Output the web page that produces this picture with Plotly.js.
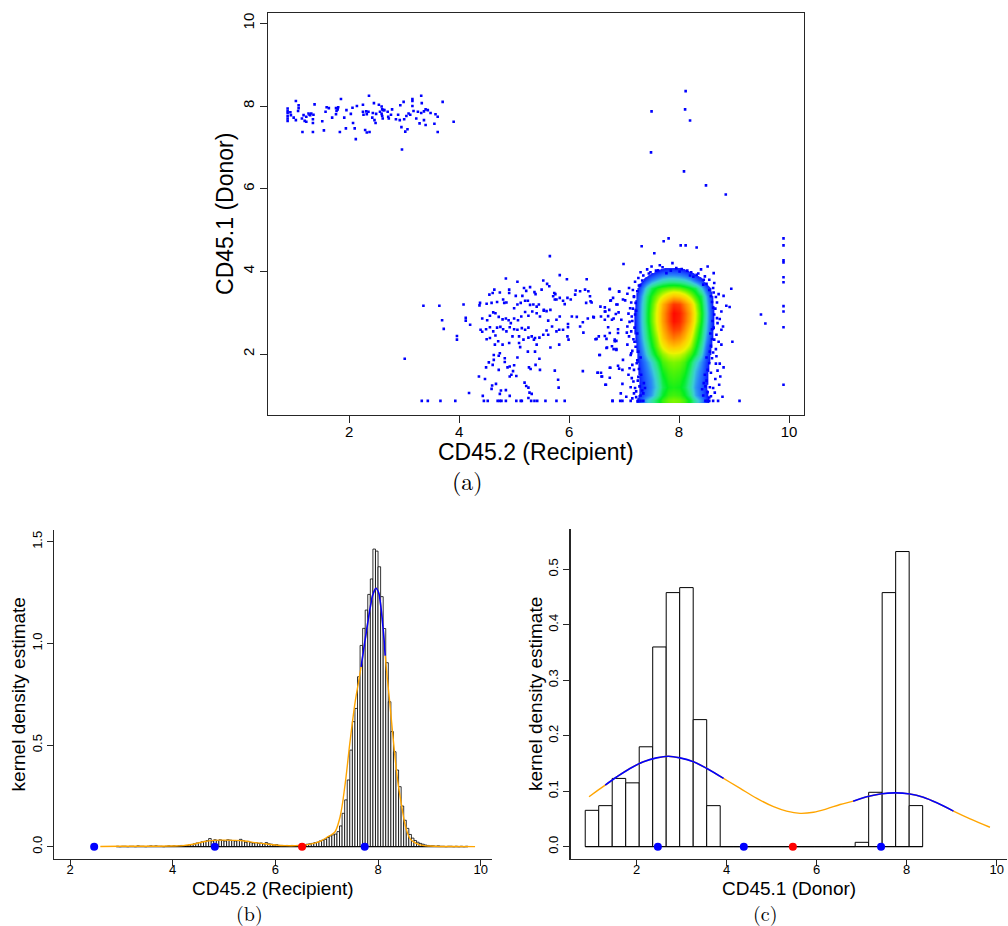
<!DOCTYPE html>
<html>
<head>
<meta charset="utf-8">
<script src="https://cdn.plot.ly/plotly-3.0.1.min.js"></script>
<style>
  html, body { margin: 0; padding: 0; background: #ffffff; }
  #chart { width: 1008px; height: 926px; }
</style>
</head>
<body>
<div id="chart"></div>
<script>
// ---------- (a) CD45.2 vs CD45.1 flow cytometry events ----------
// Donor-derived events (low CD45.2, high CD45.1)
const donorCellsX = [0.88,0.88,0.88,0.88,0.88,0.88,0.93,0.94,0.99,1.03,1.03,1.08,1.08,1.07,1.14,1.15,
  1.17,1.19,1.22,1.22,1.26,1.28,1.29,1.31,1.34,1.34,1.35,1.34,1.37,1.51,1.54,1.59,1.63,1.57,1.69,1.76,
  1.77,1.79,1.76,1.80,1.85,1.83,1.91,1.94,1.95,2.03,2.07,2.10,2.06,2.12,2.14,2.25,2.25,2.26,2.29,2.31,
  2.32,2.32,2.36,2.37,2.35,2.42,2.43,2.45,2.46,2.49,2.48,2.54,2.56,2.59,2.60,2.62,2.59,2.61,2.64,2.60,
  2.71,2.72,2.70,2.76,2.78,2.85,2.89,2.93,2.95,2.92,2.96,2.99,3.00,3.02,3.04,3.06,3.08,3.11,3.15,3.15,
  3.15,3.17,3.22,3.25,3.28,3.31,3.32,3.31,3.36,3.36,3.39,3.39,3.43,3.48,3.55,3.57,3.61,3.61,3.70,3.90];
const donorCellsY = [7.94,7.88,7.83,7.76,7.70,7.64,7.85,7.78,7.72,7.66,8.12,8.02,7.95,7.88,7.70,7.37,
  7.78,7.64,7.62,7.74,7.82,7.79,7.78,7.82,7.68,7.59,7.79,7.37,8.04,7.63,7.41,7.97,7.95,7.86,7.72,7.95,
  7.88,7.92,7.80,7.97,8.17,7.37,7.72,7.46,7.90,7.81,7.59,7.46,7.96,7.20,8.00,8.03,7.86,7.79,7.42,7.87,
  7.36,7.80,8.25,7.37,7.86,7.72,7.83,8.07,7.66,7.81,7.59,8.03,7.86,7.99,7.92,7.90,7.81,7.70,7.90,7.76,
  7.74,7.70,7.86,7.79,7.92,7.68,7.79,8.02,7.49,7.66,6.95,8.10,7.68,7.38,7.76,7.44,7.82,7.79,8.17,8.12,
  8.00,7.88,7.70,7.86,7.58,8.25,8.07,7.83,7.87,7.66,7.54,7.92,7.90,7.83,7.57,7.80,7.37,7.74,8.10,7.62];

// Intermediate population around CD45.2 ~ 5 (pairs of [CD45.2, CD45.1])
const midCells = [
  [5.65,4.37],[5.83,3.91],[5.96,3.81],[6.32,3.81],[6.74,3.57],[6.91,3.51],[4.85,3.83],[5.06,3.75],
  [5.18,3.60],[5.53,3.78],[5.60,3.70],[5.64,3.64],[5.29,3.62],[5.37,3.50],[5.73,3.48],[5.75,3.45],
  [5.50,3.56],[5.39,3.45],[5.22,3.53],[5.15,3.41],[5.03,3.41],[4.91,3.56],[4.74,3.49],[4.64,3.56],
  [4.61,3.48],[4.55,3.44],[4.59,3.24],[4.50,3.22],[4.38,3.24],[4.37,3.18],[4.69,3.26],[4.82,3.24],
  [4.80,3.32],[4.86,3.25],[4.91,3.48],[5.00,3.11],[5.06,3.20],[5.12,3.24],[5.20,3.29],[5.25,3.29],
  [5.29,3.19],[5.35,3.20],[5.41,3.15],[5.45,3.20],[5.54,3.07],[5.59,3.04],[5.66,3.07],[5.71,3.40],
  [5.74,3.32],[5.77,3.32],[5.83,3.36],[5.89,3.29],[5.92,3.21],[5.97,3.36],[6.03,3.32],[6.11,3.44],
  [6.12,3.54],[6.20,3.52],[6.29,3.56],[6.35,3.52],[6.39,3.28],[6.31,3.24],[6.57,3.15],[6.65,3.13],
  [6.66,3.03],[6.73,3.07],[6.76,3.30],[6.80,3.36],[6.88,3.20],[6.90,3.01],[6.85,2.97],[6.81,2.86],
  [6.78,2.83],[6.71,2.92],[6.65,2.83],[6.58,2.91],[6.44,2.90],[6.34,2.86],[6.25,2.77],[6.14,2.90],
  [6.05,2.91],[5.98,2.73],[5.98,2.65],[5.89,2.59],[5.83,2.91],[5.77,2.83],[5.69,2.67],[5.62,2.81],
  [5.54,3.05],[5.47,2.91],[5.41,2.99],[5.33,3.03],[5.26,2.93],[5.20,3.02],[5.13,2.91],[5.07,2.82],
  [5.00,2.86],[4.94,2.75],[4.90,2.82],[4.85,2.86],[4.79,2.84],[4.72,2.90],[4.66,2.99],[4.62,3.01],
  [4.56,2.93],[4.51,2.82],[4.42,2.86],[4.39,2.59],[4.42,2.54],[4.49,2.60],[4.56,2.65],[4.62,2.55],
  [4.69,2.64],[4.75,2.66],[4.80,2.60],[4.86,2.55],[4.92,2.65],[5.00,2.60],[5.06,2.59],[5.14,2.63],
  [5.20,2.59],[5.26,2.64],[5.32,2.43],[5.38,2.39],[5.46,2.40],[5.53,2.47],[5.62,2.47],[5.59,2.57],
  [5.77,2.55],[5.82,2.59],[5.97,2.43],[5.99,2.35],[6.26,2.52],[6.20,2.67],[6.48,2.36],[6.54,2.43],
  [6.65,2.44],[6.68,2.37],[6.74,2.51],[6.83,2.35],[6.86,2.32],[6.89,2.60],[6.78,2.19],[6.81,2.12],
  [6.86,2.10],[6.69,2.16],[6.56,1.98],[4.50,2.36],[4.56,2.39],[4.66,2.45],[4.71,2.31],[4.65,2.23],
  [4.79,2.23],[4.91,2.27],[4.97,2.43],[5.09,2.43],[5.09,2.27],[5.11,2.17],[5.17,2.35],[5.26,2.40],
  [5.36,2.35],[5.41,2.23],[5.25,2.06],[5.38,2.06],[5.46,1.89],[5.66,2.16],[5.82,2.23],[5.47,1.62],
  [5.39,1.74],[5.27,1.68],[5.30,1.64],[5.06,1.92],[5.00,1.73],[4.92,1.70],[4.88,1.68],[4.83,1.81],
  [4.83,1.90],[4.72,1.96],[4.74,2.02],[4.63,1.98],[4.63,1.86],[4.61,1.74],[4.54,1.80],[4.49,1.68],
  [4.72,1.62],[4.95,1.50],[4.92,1.46],[4.98,1.59],[5.04,1.47],[5.22,1.23],[5.19,1.31],[5.26,1.19],
  [5.28,1.07],[5.32,1.04],[5.26,0.94],[4.92,0.99],[4.85,1.13],[4.76,1.12],[4.74,1.04],[4.67,1.28],
  [4.60,1.24],[4.59,1.16],[4.47,1.40],[4.36,1.46],[4.43,0.99],[4.18,1.06],[5.74,1.60],[5.80,1.38],
  [5.81,1.19],[6.25,1.59],[6.52,1.55],[6.60,1.46],[6.58,1.55],[6.67,1.26],[6.75,1.67],[6.74,1.43],
  [6.91,1.65],[6.89,1.72],[3.35,3.17],[3.64,3.17],[3.69,2.82],[3.72,2.61],[4.12,2.88],[4.12,2.81],
  [4.08,3.20],[4.20,2.71],[3.96,2.44],[3.96,2.35],[3.01,1.89],
  [3.32,0.87],[3.43,0.87],[3.66,0.87],[3.93,0.87],[4.45,0.87],[4.52,0.87],[4.70,0.87],[4.74,0.87],
  [4.77,0.87],[4.85,0.87],[5.04,0.87],[5.12,0.87],[5.14,0.87],[5.31,0.87],[5.37,0.87],[5.42,0.87],
  [5.57,0.87],[5.77,0.87],[5.92,0.87],[6.79,0.87]
];

// Recipient population: sparse events around the dense core and outliers
const recipCells = [
  [8.12,8.36],[7.50,7.87],[8.11,7.92],[8.20,7.65],[7.49,6.88],[8.09,6.42],[8.49,6.08],[8.85,5.86],
  [7.81,4.80],[7.72,4.73],[7.32,4.61],[8.03,4.63],[8.12,4.63],[8.32,4.58],[7.55,4.44],[7.88,4.20],
  [6.99,4.18],[8.52,4.12],
  [9.90,4.80],[9.90,4.63],[9.90,4.27],[9.90,4.22],[9.90,3.86],[9.90,3.74],[9.90,3.16],[9.90,3.03],
  [9.90,2.65],[9.90,1.26],[9.49,2.96],[9.57,2.74],[9.10,0.87],
  [6.38,3.40],[6.41,3.25],[6.45,2.89],[6.50,2.37],[6.55,1.98],[6.52,1.55],[6.59,1.46],[6.66,1.26],
  [6.79,0.87],[6.74,3.58],[6.75,3.29],[6.65,3.03],[6.71,2.65],[6.68,2.15],[6.74,1.67],[6.91,3.52],
  [6.98,3.32],[6.86,3.20],[6.95,2.83],[6.89,2.51],[6.83,2.31],[6.86,2.12],[6.98,1.86],[6.97,1.62],
  [6.97,1.28],[6.94,1.05],[7.04,0.97],[7.12,0.87],[7.08,1.50],[7.17,1.34],[7.15,1.74],[7.12,1.98],
  [7.06,2.23],[7.09,2.43],[7.06,2.67],[7.14,2.91],[7.11,3.11],[7.18,3.40],[7.09,3.60],[7.29,3.67],
  [7.26,3.84],[7.30,3.98],[7.48,3.98],[7.62,4.03],[7.77,3.96],[8.01,4.00],[8.20,3.90],[8.26,3.87],
  [8.47,3.88],[8.63,3.96],[8.64,3.72],[8.44,3.68],[8.63,3.49],[8.81,3.41],[8.95,3.58],[8.92,3.14],
  [8.86,3.17],[8.69,3.25],[8.67,3.38],[8.77,3.03],[8.69,2.87],[8.80,2.67],[8.77,2.59],[8.68,2.47],
  [8.97,2.30],[8.77,2.23],[8.67,2.12],[8.62,2.04],[8.67,1.77],[8.74,1.77],[8.81,1.68],[8.75,1.46],
  [8.73,1.26],[8.65,1.07],[8.79,0.97],[8.71,0.87],[8.62,0.87],[6.97,0.87],[6.93,0.87],
  // speckled fringe around the dense core
  [7.22,1.10],[7.28,1.22],[7.25,1.36],[7.31,1.50],[7.27,1.64],[7.23,1.78],[7.30,1.92],[7.26,2.06],
  [7.21,2.18],[7.17,2.36],[7.24,2.50],[7.19,2.64],[7.15,2.80],[7.20,2.96],[7.16,3.10],[7.21,3.24],
  [7.18,3.38],[7.24,3.52],[7.27,3.66],[7.33,3.78],[7.35,1.05],[7.36,1.30],[7.33,1.12],[7.38,1.18],
  [7.30,1.00],[7.12,1.20],[7.14,1.42],[7.10,1.66],[7.13,2.02],[7.05,2.52],[7.08,2.98],[7.02,3.30],
  [7.06,3.46],[7.25,0.87],[7.35,0.87],[7.15,0.93],[7.20,3.75],[7.16,3.55],[7.13,3.25],[7.10,2.78],
  [7.13,2.55],[7.15,2.08],[7.18,1.62],[7.20,1.18],[7.22,0.96],[7.26,1.45],[7.24,1.85],[7.19,2.30],
  [7.22,3.05],[7.35,3.90],[7.42,4.05],[7.70,4.10],[7.95,4.08],[8.15,4.02],[8.35,3.95],[8.55,3.80],
  [8.52,1.08],[8.48,1.22],[8.50,1.36],[8.47,1.50],[8.52,1.62],[8.55,1.78],[8.50,1.92],[8.56,2.06],
  [8.58,2.20],[8.60,2.36],[8.57,2.50],[8.63,2.64],[8.61,2.80],[8.64,2.96],[8.62,3.12],[8.60,3.26],
  [8.58,3.40],[8.55,3.55],[8.50,3.70],[8.45,3.80],[8.44,1.00],[8.42,1.15],[8.45,1.30],[8.58,0.98],
  [8.62,1.18],[8.66,1.40],[8.70,1.60],[8.68,1.95],[8.72,2.30],[8.74,2.85],[8.72,3.45],[8.55,0.87],
  [8.48,0.87],[8.62,3.60],[8.66,3.10],[8.70,2.75],[8.64,2.35],[8.60,1.90],[8.58,1.55],[8.56,1.20],
  [8.55,0.95],[8.52,0.87],[7.30,0.87],[7.18,1.05],[8.60,2.60],
  [7.45,3.95],[7.58,4.02],[7.85,4.02],[8.05,4.06],[8.22,3.98],[8.32,3.92],[7.50,4.12],[8.40,4.05],
  [7.65,4.15]
];

// Local event density of the recipient core (relative level 0-10)
const coreGridX = [7.0,7.1,7.2,7.3,7.4,7.5,7.6,7.7,7.8,7.9,8.0,8.1,8.2,8.3,8.4,8.5,8.6,8.7,8.8];
const coreGridY = [0.88,1.0,1.2,1.4,1.6,1.8,2.0,2.2,2.4,2.6,2.8,3.0,3.2,3.4,3.6,3.8,4.0,4.2];
const coreDensity = [
  [0,0,0.7,1.8,3.0,3.7,4.5,5.2,5.6,5.7,5.6,5.3,4.6,3.6,2.6,1.3,0.3,0,0],
  [0,0,0.3,1.3,2.1,2.7,3.8,4.7,5.2,5.3,5.2,4.8,4.0,2.8,2.0,1.1,0.2,0,0],
  [0,0,0.2,1.1,1.9,2.5,3.4,4.4,4.9,5.0,4.9,4.5,3.6,2.6,1.9,1.0,0.2,0,0],
  [0,0,0.3,1.2,2.0,2.6,3.6,4.6,5.1,5.2,5.1,4.7,3.8,2.8,2.0,1.1,0.2,0,0],
  [0,0,0.4,1.3,2.2,2.9,3.9,4.9,5.3,5.4,5.3,5.0,4.1,3.0,2.2,1.2,0.3,0,0],
  [0,0,0.5,1.5,2.5,3.3,4.4,5.3,5.6,5.7,5.6,5.3,4.5,3.5,2.5,1.4,0.4,0,0],
  [0,0,0.6,1.9,3.2,4.2,5.2,5.8,6.2,6.3,6.2,5.9,5.3,4.5,3.3,1.7,0.5,0,0],
  [0,0,0.8,2.2,3.6,4.7,5.7,6.5,7.2,7.4,7.2,6.7,6.0,5.0,3.8,2.1,0.7,0,0],
  [0,0.1,1.0,2.5,4.0,5.0,6.0,7.2,8.0,8.4,8.1,7.5,6.5,5.4,4.2,2.6,0.9,0,0],
  [0,0.2,1.1,2.7,4.2,5.3,6.4,7.6,8.6,9.2,9.0,8.2,7.1,5.8,4.5,3.0,1.1,0.1,0],
  [0,0.2,1.1,2.8,4.4,5.5,6.6,7.9,9.0,9.8,9.5,8.7,7.6,6.2,4.8,3.2,1.2,0.1,0],
  [0,0.2,1.1,2.8,4.4,5.5,6.6,7.9,9.0,9.9,9.6,8.8,7.7,6.3,4.9,3.3,1.2,0.1,0],
  [0,0.1,1.0,2.7,4.3,5.3,6.4,7.6,8.6,9.3,9.1,8.3,7.3,6.0,4.7,3.1,1.1,0,0],
  [0,0,0.8,2.4,4.1,5.0,5.8,6.4,7.0,7.4,7.2,6.8,6.0,5.2,4.4,2.8,0.9,0,0],
  [0,0,0.4,1.7,3.4,4.4,5.0,5.3,5.5,5.6,5.5,5.2,4.8,4.4,3.2,1.7,0.5,0,0],
  [0,0,0,0.5,1.6,2.4,3.0,3.4,3.6,3.6,3.5,3.3,2.8,2.0,1.2,0.3,0,0,0],
  [0,0,0,0,0,0.5,1.0,1.4,1.6,1.6,1.5,1.2,0.8,0.3,0,0,0,0,0],
  [0,0,0,0,0,0,0,0,0,0,0,0,0,0,0,0,0,0,0]
];

// ---------- (b) CD45.2 (Recipient) histogram and kernel density ----------
const recipBreakStart = 2.90;
const recipBinWidth = 0.05;
const recipDensity = [
  0.002,0,0.002,0.002,0,0.002,0.002,0,0.004,0.002,0.002,0,0.002,0.004,0.002,0.004,0.002,0.002,0,0.002,
  0.004,0.002,0.004,0.002,0.004,0.006,0.004,0.006,
  0.008,0.010,0.014,0.018,0.020,0.024,0.026,0.030,0.040,0.028,
  0.034,0.030,0.034,0.030,0.028,0.034,0.032,0.030,0.028,0.030,
  0.036,0.030,0.022,0.026,0.020,0.018,0.020,0.016,0.018,0.014,
  0.020,0.014,0.012,0.008,0.010,0.006,0.006,0.004,0.006,0.004,
  0.006,0.004,0.006,0.006,0.008,0.008,0.012,0.014,0.016,0.020,
  0.022,0.028,0.032,0.036,
  0.045,0.053,0.058,0.062,0.074,0.102,0.164,0.230,0.328,0.475,0.615,0.680,0.836,0.990,1.074,1.164,1.241,1.317,
  1.464,1.454,1.377,1.230,1.073,0.905,0.713,0.566,0.467,0.377,0.295,0.200,
  0.130,0.090,0.060,0.042,0.030,0.022,0.016,0.012,0.008,0.006,0.004,0.004,0.002,0.004,0.002,0.002,0,
  0.002,0.002,0,0.002,0,0.002,0,0.002
];
const recipKdeX = [2.59,3.0,3.5,4.0,4.2,4.4,4.6,4.8,5.0,5.2,5.4,5.6,5.8,6.0,6.2,6.4,6.6,6.8,6.9,7.0,
  7.1,7.16,7.26,7.36,7.45,7.55,7.62,7.67,7.72,7.78,7.85,7.9,7.96,8.01,8.06,8.1,8.14,8.18,8.23,8.28,
  8.33,8.38,8.43,8.48,8.52,8.57,8.62,8.7,8.8,8.9,9.0,9.2,9.5,9.89];
const recipKdeY = [0.001,0.002,0.002,0.003,0.005,0.012,0.024,0.031,0.032,0.031,0.028,0.020,0.014,0.008,
  0.005,0.005,0.009,0.020,0.030,0.045,0.060,0.072,0.146,0.310,0.508,0.705,0.810,0.885,0.970,1.070,
  1.180,1.240,1.271,1.250,1.170,1.070,0.940,0.830,0.705,0.570,0.442,0.330,0.246,0.170,0.115,0.070,
  0.041,0.022,0.010,0.005,0.003,0.001,0.001,0.0];
const recipPeakRange = [7.67, 8.14];
const recipModes = [2.47, 4.82, 7.74];
const recipAntimodes = [6.52];

// ---------- (c) CD45.1 (Donor) histogram and kernel density ----------
const donorBreakStart = 0.855;
const donorBinWidth = 0.3;
const donorDensity = [0.0655,0.0739,0.123,0.115,0.180,0.360,0.458,0.467,0.229,0.0739,
  0,0,0,0,0,0,0,0,0,0,
  0.0078,0.098,0.458,0.532,0.074];
const donorKdeX = [0.94,1.11,1.30,1.56,1.85,2.15,2.44,2.70,2.96,3.26,3.56,3.93,4.30,4.67,5.04,5.33,
  5.63,5.93,6.22,6.52,6.81,7.11,7.41,7.74,8.07,8.37,8.67,9.04,9.41,9.85];
const donorKdeY = [0.090,0.100,0.111,0.126,0.141,0.153,0.160,0.163,0.160,0.153,0.141,0.123,0.105,0.087,
  0.072,0.064,0.060,0.062,0.068,0.076,0.082,0.090,0.095,0.097,0.095,0.089,0.079,0.064,0.050,0.035];
const donorPeakRanges = [[1.30, 3.93], [6.81, 9.04]];
const donorModes = [2.47, 4.38, 7.43];
const donorAntimodes = [5.47];

// ---------- helpers ----------
const BLUE = '#0000ff', RED = '#ff0000', ORANGE = '#ffa500';
const sansFont = 'Liberation Sans, Arial, Helvetica, sans-serif';
const serifFont = 'Latin Modern Roman, Liberation Serif, DejaVu Serif, serif';

function binCenters(start, width, values) {
  return values.map((_, i) => start + width * (i + 0.5));
}
function inRange(xs, ys, lo, hi) {
  const px = [], py = [];
  xs.forEach((x, i) => { if (x >= lo && x <= hi) { px.push(x); py.push(ys[i]); } });
  return { x: px, y: py };
}
function events(pairs, ax, ay) {
  return {
    type: 'scatter', mode: 'markers', xaxis: ax, yaxis: ay,
    x: pairs.map(p => p[0]), y: pairs.map(p => p[1]),
    marker: { symbol: 'square', size: 2.6, color: BLUE, line: { width: 0 } },
    hoverinfo: 'skip'
  };
}
function points(xs, color, ax, ay) {
  return {
    type: 'scatter', mode: 'markers', xaxis: ax, yaxis: ay,
    x: xs, y: xs.map(() => 0),
    marker: { symbol: 'circle', size: 8, color: color, line: { width: 0 } },
    hoverinfo: 'skip'
  };
}

const traces = [];

// (a) density core, then individual events
traces.push({
  type: 'heatmap', xaxis: 'x', yaxis: 'y',
  x: coreGridX, y: coreGridY, z: coreDensity,
  zmin: 0, zmax: 10, zsmooth: 'best', showscale: false, hoverinfo: 'skip',
  colorscale: [
    [0, 'rgba(0,0,255,0)'], [0.089, 'rgba(0,0,255,0)'], [0.09, 'rgb(10,20,255)'],
    [0.16, 'rgb(25,75,255)'], [0.24, 'rgb(40,130,250)'], [0.32, 'rgb(60,205,215)'],
    [0.40, 'rgb(45,230,140)'], [0.48, 'rgb(0,238,30)'], [0.56, 'rgb(110,245,0)'],
    [0.64, 'rgb(235,245,0)'], [0.72, 'rgb(255,205,0)'], [0.82, 'rgb(255,140,0)'],
    [0.92, 'rgb(255,60,0)'], [1, 'rgb(255,0,0)']
  ]
});
traces.push(events(donorCellsX.map((x, i) => [x, donorCellsY[i]]), 'x', 'y'));
traces.push(events(midCells, 'x', 'y'));
traces.push(events(recipCells, 'x', 'y'));

// (b) histogram + density
const recipEnd = recipBreakStart + recipBinWidth * recipDensity.length;
traces.push({
  type: 'bar', xaxis: 'x2', yaxis: 'y2',
  x: binCenters(recipBreakStart, recipBinWidth, recipDensity), y: recipDensity,
  width: recipBinWidth,
  marker: { color: '#ffffff', line: { color: '#000000', width: 0.8 } },
  hoverinfo: 'skip'
});
traces.push({
  type: 'scatter', mode: 'lines', xaxis: 'x2', yaxis: 'y2',
  x: [recipBreakStart, recipEnd], y: [0, 0],
  line: { color: '#000000', width: 1 }, hoverinfo: 'skip'
});
traces.push({
  type: 'scatter', mode: 'lines', xaxis: 'x2', yaxis: 'y2',
  x: recipKdeX, y: recipKdeY, line: { color: ORANGE, width: 1.4, shape: 'spline' }, hoverinfo: 'skip'
});
const recipPeak = inRange(recipKdeX, recipKdeY, recipPeakRange[0], recipPeakRange[1]);
traces.push({
  type: 'scatter', mode: 'lines', xaxis: 'x2', yaxis: 'y2',
  x: recipPeak.x, y: recipPeak.y, line: { color: BLUE, width: 1.6, shape: 'spline' }, hoverinfo: 'skip'
});
traces.push(points(recipModes, BLUE, 'x2', 'y2'));
traces.push(points(recipAntimodes, RED, 'x2', 'y2'));

// (c) histogram + density
const donorEnd = donorBreakStart + donorBinWidth * donorDensity.length;
traces.push({
  type: 'bar', xaxis: 'x3', yaxis: 'y3',
  x: binCenters(donorBreakStart, donorBinWidth, donorDensity), y: donorDensity,
  width: donorBinWidth,
  marker: { color: '#ffffff', line: { color: '#000000', width: 1 } },
  hoverinfo: 'skip'
});
traces.push({
  type: 'scatter', mode: 'lines', xaxis: 'x3', yaxis: 'y3',
  x: [donorBreakStart, donorEnd], y: [0, 0],
  line: { color: '#000000', width: 1 }, hoverinfo: 'skip'
});
traces.push({
  type: 'scatter', mode: 'lines', xaxis: 'x3', yaxis: 'y3',
  x: donorKdeX, y: donorKdeY, line: { color: ORANGE, width: 1.4, shape: 'spline' }, hoverinfo: 'skip'
});
donorPeakRanges.forEach(r => {
  const seg = inRange(donorKdeX, donorKdeY, r[0], r[1]);
  traces.push({
    type: 'scatter', mode: 'lines', xaxis: 'x3', yaxis: 'y3',
    x: seg.x, y: seg.y, line: { color: BLUE, width: 1.6, shape: 'spline' }, hoverinfo: 'skip'
  });
});
traces.push(points(donorModes, BLUE, 'x3', 'y3'));
traces.push(points(donorAntimodes, RED, 'x3', 'y3'));

// ---------- layout ----------
const baseAxis = {
  showgrid: false, zeroline: false, showline: true, ticks: 'outside',
  linecolor: '#262626', tickcolor: '#262626', color: '#000000'
};

const layout = {
  width: 1008, height: 926,
  margin: { l: 0, r: 0, t: 0, b: 0 },
  paper_bgcolor: '#ffffff', plot_bgcolor: '#ffffff',
  showlegend: false, hovermode: false,
  font: { family: sansFont, color: '#000000' },
  xaxis: Object.assign({}, baseAxis, {
    domain: [0.2656, 0.7973], anchor: 'y', range: [0.518, 10.267],
    tickvals: [2, 4, 6, 8, 10], ticklen: 7, linewidth: 1, mirror: true, ticklabelstandoff: -4,
    tickfont: { size: 15, family: sansFont }
  }),
  yaxis: Object.assign({}, baseAxis, {
    domain: [0.5513, 0.9863], anchor: 'x', range: [0.516, 10.257],
    tickvals: [2, 4, 6, 8, 10], ticklen: 7, linewidth: 1, mirror: true, tickangle: -90,
    tickfont: { size: 15, family: sansFont }
  }),
  xaxis2: Object.assign({}, baseAxis, {
    domain: [0.0539, 0.4881], anchor: 'y2', range: [1.694, 10.22],
    tickvals: [2, 4, 6, 8, 10], ticklen: 6, linewidth: 1.5, ticklabelstandoff: -8,
    tickfont: { size: 13, family: sansFont }
  }),
  yaxis2: Object.assign({}, baseAxis, {
    domain: [0.0724, 0.4276], anchor: 'x2', range: [-0.0605, 1.5576],
    tickvals: [0, 0.5, 1, 1.5], tickformat: '.1f', ticklen: 6, linewidth: 1.5, tickangle: -90,
    tickfont: { size: 13, family: sansFont }
  }),
  xaxis3: Object.assign({}, baseAxis, {
    domain: [0.5662, 0.9993], anchor: 'y3', range: [0.533, 10.236],
    tickvals: [2, 4, 6, 8, 10], ticklen: 6, linewidth: 1.5, ticklabelstandoff: -8,
    tickfont: { size: 13, family: sansFont }
  }),
  yaxis3: Object.assign({}, baseAxis, {
    domain: [0.0724, 0.4287], anchor: 'x3', range: [-0.0222, 0.5726],
    tickvals: [0, 0.1, 0.2, 0.3, 0.4, 0.5], tickformat: '.1f', ticklen: 6, linewidth: 1.5, tickangle: -90,
    tickfont: { size: 13, family: sansFont }
  }),
  annotations: [
    { text: 'CD45.2 (Recipient)', x: 0.5315, y: 0.5119, font: { size: 23, family: sansFont } },
    { text: 'CD45.1 (Donor)', x: 0.2232, y: 0.7689, textangle: -90, font: { size: 23, family: sansFont } },
    { text: '(a)', x: 0.4638, y: 0.4816, font: { size: 24, family: serifFont } },
    { text: 'CD45.2 (Recipient)', x: 0.2708, y: 0.041, font: { size: 19, family: sansFont } },
    { text: 'kernel density estimate', x: 0.0182, y: 0.2505, textangle: -90, font: { size: 19, family: sansFont } },
    { text: '(b)', x: 0.2473, y: 0.0145, font: { size: 20, family: serifFont } },
    { text: 'CD45.1 (Donor)', x: 0.783, y: 0.041, font: { size: 19, family: sansFont } },
    { text: 'kernel density estimate', x: 0.5308, y: 0.2505, textangle: -90, font: { size: 19, family: sansFont } },
    { text: '(c)', x: 0.759, y: 0.0145, font: { size: 20, family: serifFont } }
  ].map(a => Object.assign({ xref: 'paper', yref: 'paper', showarrow: false, borderpad: 0,
                              xanchor: 'center', yanchor: 'middle' }, a))
};

Plotly.newPlot('chart', traces, layout, { displayModeBar: false, staticPlot: true });
</script>
</body>
</html>
